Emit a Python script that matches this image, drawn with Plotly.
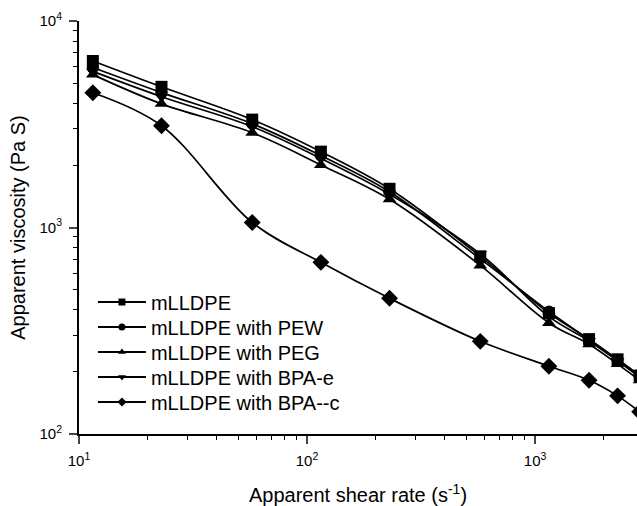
import plotly.graph_objects as go

shear_rate = [11.5, 23, 57.5, 115, 230, 575, 1150, 1725, 2300, 2875]

series_names = ["mLLDPE", "mLLDPE with PEW", "mLLDPE with PEG",
                "mLLDPE with BPA-e", "mLLDPE with BPA--c"]
symbols = ["square", "circle", "triangle-up", "triangle-down", "diamond"]

visc_mlldpe = [6400, 4800, 3330, 2330, 1540, 725, 385, 288, 230, 192]
visc_pew = [5950, 4500, 3180, 2230, 1490, 705, 392, 286, 228, 190]
visc_peg = [5500, 3970, 2880, 2010, 1370, 655, 345, 272, 218, 182]
visc_bpae = [5700, 4300, 3080, 2160, 1450, 745, 370, 282, 226, 188]
visc_bpac = [4490, 3110, 1057, 678, 454, 281, 213, 182, 153, 128]

all_series = [visc_mlldpe, visc_pew, visc_peg, visc_bpae, visc_bpac]

xtick_vals = [10, 100, 1000]
xtick_text = ["10<sup>1</sup>", "10<sup>2</sup>", "10<sup>3</sup>"]
ytick_vals = [100, 1000, 10000]
ytick_text = ["10<sup>2</sup>", "10<sup>3</sup>", "10<sup>4</sup>"]
minor_x = [m * d for d in (10, 100, 1000) for m in range(2, 10)]
minor_y = [m * d for d in (100, 1000) for m in range(2, 10)]

font_family = "Liberation Sans, Arial, sans-serif"

# plot area geometry in pixels (for legend row placement)
plot_top, plot_bottom = 21, 434
legend_rows_px = [302, 327, 352, 377, 402]

fig = go.Figure()
legend_keys = ["legend", "legend2", "legend3", "legend4", "legend5"]
for name, sym, vals, lk in zip(series_names, symbols, all_series, legend_keys):
    fig.add_trace(go.Scatter(
        x=shear_rate, y=vals, name=name, mode="lines+markers",
        line=dict(color="black", width=1.7, shape="spline", smoothing=1.0),
        marker=dict(symbol=sym, size=13 if sym == "diamond" else 12, color="black"),
        showlegend=False,
    ))
    # legend entry with small marker
    fig.add_trace(go.Scatter(
        x=[None], y=[None], name=name, mode="lines+markers",
        line=dict(color="black", width=2),
        marker=dict(symbol=sym, size=7, color="black"),
        showlegend=True, legend=lk,
    ))

layout_legends = {}
for lk, ypx in zip(legend_keys, legend_rows_px):
    layout_legends[lk] = dict(
        x=0.025, y=(plot_bottom - ypx) / (plot_bottom - plot_top),
        xanchor="left", yanchor="middle",
        font=dict(size=20, family=font_family, color="black"),
        bgcolor="rgba(0,0,0,0)", itemwidth=48, itemsizing="trace",
    )

fig.update_layout(
    width=637, height=506,
    margin=dict(l=79, r=0, t=21, b=72),
    paper_bgcolor="white", plot_bgcolor="white",
    font=dict(family=font_family, color="black", size=14),
    showlegend=True,
    **layout_legends,
    xaxis=dict(type="log", range=[1, 3.447],
               tickvals=xtick_vals, ticktext=xtick_text,
               ticks="outside", ticklen=8, tickwidth=1.5,
               minor=dict(tickvals=minor_x, ticks="outside", ticklen=4,
                          tickwidth=1.2, tickcolor="black", showgrid=False),
               showline=True, linecolor="black", linewidth=2,
               showgrid=False, zeroline=False,
               tickfont=dict(size=15), ticklabelstandoff=4,
               title=dict(text="Apparent shear rate (s<sup>-1</sup>)",
                          font=dict(size=20), standoff=20)),
    yaxis=dict(type="log", range=[2, 4],
               tickvals=ytick_vals, ticktext=ytick_text,
               ticks="outside", ticklen=8, tickwidth=1.5,
               minor=dict(tickvals=minor_y, ticks="outside", ticklen=4,
                          tickwidth=1.2, tickcolor="black", showgrid=False),
               showline=True, linecolor="black", linewidth=2,
               showgrid=False, zeroline=False,
               tickfont=dict(size=15), ticklabelstandoff=4,
               title=dict(text="Apparent viscosity (Pa S)",
                          font=dict(size=20), standoff=8)),
)

fig.write_html("out.html")
